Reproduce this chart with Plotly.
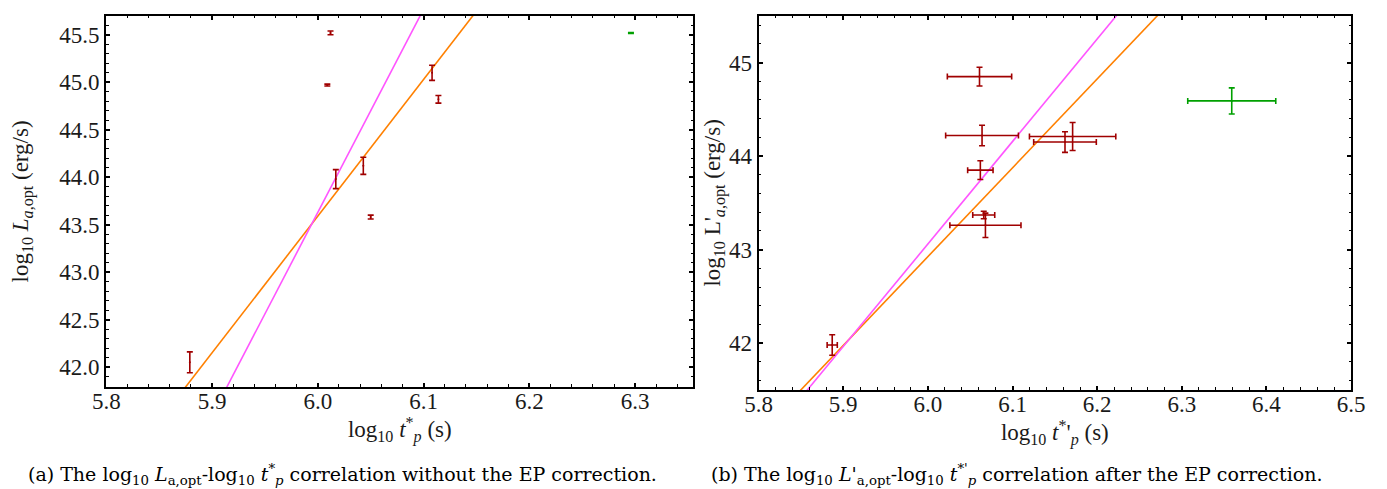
import numpy as np
import plotly.graph_objects as go

# panel (a): before EP correction
a_x = [6.012, 6.009, 6.017, 6.043, 6.108, 6.114, 6.050, 5.879]
a_y = [45.52, 44.97, 43.98, 44.12, 45.10, 44.82, 43.58, 42.05]
a_yerr = [0.02, 0.01, 0.10, 0.09, 0.08, 0.04, 0.02, 0.11]
a_out_x = [6.296]
a_out_y = [45.52]
a_out_yerr = [0.005]
a_fit_orange = (-42.81, 14.4)   # intercept, slope
a_fit_magenta = (-84.77, 21.4)

# panel (b): after EP correction
b_x = [6.061, 6.064, 6.062, 6.066, 6.068, 5.887, 6.162, 6.171]
b_y = [44.85, 44.22, 43.85, 43.37, 43.26, 41.98, 44.15, 44.21]
b_xerr = [0.038, 0.043, 0.015, 0.013, 0.042, 0.006, 0.037, 0.051]
b_yerr = [0.10, 0.11, 0.10, 0.04, 0.13, 0.11, 0.11, 0.15]
b_out_x = [6.359]
b_out_y = [44.59]
b_out_xerr = [0.052]
b_out_yerr = [0.14]
b_fit_orange = (-14.075, 9.50)
b_fit_magenta = (-22.70, 10.96)

RED = "#a00000"
GREEN = "#00a000"
ORANGE = "#ff8000"
MAGENTA = "#ff55ff"
FONT = "Liberation Serif"
CAP_FONT = "DejaVu Serif"

fig = go.Figure()


def fit_line(fit, xr, color, xa, ya):
    xs = np.array(xr)
    fig.add_trace(go.Scatter(x=xs, y=fit[0] + fit[1] * xs, mode="lines",
                             line=dict(color=color, width=1.6),
                             xaxis=xa, yaxis=ya, showlegend=False,
                             hoverinfo="skip"))


def points(x, y, yerr, color, xa, ya, xerr=None):
    ex = dict(type="data", array=xerr, color=color, thickness=1.6, width=3) if xerr else None
    fig.add_trace(go.Scatter(x=x, y=y, mode="markers",
                             marker=dict(size=2, color=color),
                             error_y=dict(type="data", array=yerr, color=color,
                                          thickness=1.6, width=3),
                             error_x=ex, xaxis=xa, yaxis=ya, showlegend=False))


fit_line(a_fit_orange, [5.7, 6.4], ORANGE, "x", "y")
fit_line(a_fit_magenta, [5.7, 6.4], MAGENTA, "x", "y")
points(a_x, a_y, a_yerr, RED, "x", "y")
points(a_out_x, a_out_y, a_out_yerr, GREEN, "x", "y")

fit_line(b_fit_orange, [5.7, 6.6], ORANGE, "x2", "y2")
fit_line(b_fit_magenta, [5.7, 6.6], MAGENTA, "x2", "y2")
points(b_x, b_y, b_yerr, RED, "x2", "y2", b_xerr)
points(b_out_x, b_out_y, b_out_yerr, GREEN, "x2", "y2", b_out_xerr)

axis_common = dict(showline=True, linecolor="black", linewidth=2.2, mirror="allticks",
                   ticks="inside", ticklen=4, tickwidth=1.5, tickcolor="black",
                   showgrid=False, zeroline=False,
                   tickfont=dict(family=FONT, size=23, color="#1a1a1a"),
                   title_font=dict(family=FONT, size=23, color="#1a1a1a"))
minor_common = dict(ticks="inside", ticklen=2.5, tickwidth=1.2, tickcolor="black")

fig.update_layout(
    width=1387, height=489,
    margin=dict(l=0, r=0, t=0, b=0),
    paper_bgcolor="white", plot_bgcolor="white",
    xaxis=dict(axis_common, domain=[0.062, 0.494], range=[5.8, 6.355],
               dtick=0.1, tickformat=".1f", anchor="y", ticklabelstandoff=-8,
               minor=dict(minor_common, dtick=0.02),
               title=dict(text="log<sub>10</sub> <i>t</i><sup>*</sup><sub><i>p</i></sub> (s)",
                          standoff=0)),
    yaxis=dict(axis_common, domain=[0.225, 0.984], range=[41.79, 45.7],
               dtick=0.5, tickformat=".1f", anchor="x",
               minor=dict(minor_common, dtick=0.1),
               title=dict(text="log<sub>10</sub> <i>L</i><sub><i>a</i>,opt</sub> (erg/s)",
                          standoff=24)),
    xaxis2=dict(axis_common, domain=[0.542, 0.978], range=[5.8, 6.5],
                dtick=0.1, tickformat=".1f", anchor="y2", ticklabelstandoff=-8,
                minor=dict(minor_common, dtick=0.02),
                title=dict(text="log<sub>10</sub> <i>t</i><sup>*</sup>'<sub><i>p</i></sub> (s)",
                           standoff=0)),
    yaxis2=dict(axis_common, domain=[0.219, 0.984], range=[41.5, 45.5],
                dtick=1, anchor="x2",
                minor=dict(minor_common, dtick=0.2),
                title=dict(text="log<sub>10</sub> L'<sub><i>a</i>,opt</sub> (erg/s)",
                           standoff=0)),
)

fig.add_annotation(x=0.236, y=0.045, xref="paper", yref="paper", showarrow=False,
                   xanchor="center", yanchor="middle",
                   font=dict(family=CAP_FONT, size=19, color="black"),
                   text="(a) The log<sub>10</sub> <i>L</i><sub>a,opt</sub>-log<sub>10</sub> "
                        "<i>t</i><sup>*</sup><sub><i>p</i></sub> correlation without the EP correction.")
fig.add_annotation(x=0.732, y=0.045, xref="paper", yref="paper", showarrow=False,
                   xanchor="center", yanchor="middle",
                   font=dict(family=CAP_FONT, size=19, color="black"),
                   text="(b) The log<sub>10</sub> <i>L</i>'<sub>a,opt</sub>-log<sub>10</sub> "
                        "<i>t</i><sup>*'</sup><sub><i>p</i></sub> correlation after the EP correction.")

fig.write_html("out.html")
